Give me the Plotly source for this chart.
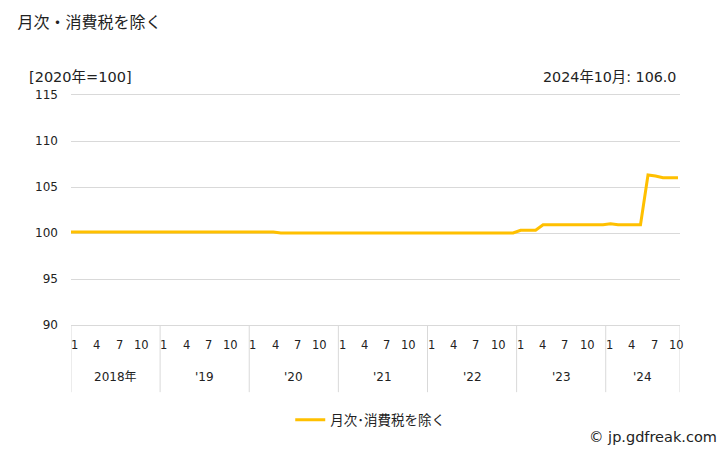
import plotly.graph_objects as go

# ---- data ----
year_labels = ["2018年", "'19", "'20", "'21", "'22", "'23", "'24"]
months_in_year = [12, 12, 12, 12, 12, 12, 10]
month_tick_labels = ["1", "4", "7", "10"]
month_tick_numbers = [1, 4, 7, 10]

v2018 = [100.1, 100.1, 100.1, 100.1, 100.1, 100.1, 100.1, 100.1, 100.1, 100.1, 100.1, 100.1]
v2019 = [100.1, 100.1, 100.1, 100.1, 100.1, 100.1, 100.1, 100.1, 100.1, 100.1, 100.1, 100.1]
v2020 = [100.1, 100.1, 100.1, 100.1, 100.0, 100.0, 100.0, 100.0, 100.0, 100.0, 100.0, 100.0]
v2021 = [100.0, 100.0, 100.0, 100.0, 100.0, 100.0, 100.0, 100.0, 100.0, 100.0, 100.0, 100.0]
v2022 = [100.0, 100.0, 100.0, 100.0, 100.0, 100.0, 100.0, 100.0, 100.0, 100.0, 100.0, 100.0]
v2023 = [100.3, 100.3, 100.3, 100.9, 100.9, 100.9, 100.9, 100.9, 100.9, 100.9, 100.9, 100.9]
v2024 = [101.0, 100.9, 100.9, 100.9, 100.9, 106.3, 106.2, 106.0, 106.0, 106.0]

series_name = "月次･消費税を除く"
title_text = "月次・消費税を除く"
unit_text = "[2020年=100]"
latest_text = "2024年10月: 106.0"
credit_text = "© jp.gdfreak.com"

values = v2018 + v2019 + v2020 + v2021 + v2022 + v2023 + v2024
idx = list(range(len(values)))
n = len(values)

FONT = "DejaVu Sans, Noto Sans CJK JP, sans-serif"
TXT = "#222222"
GRID = "#d9d9d9"
LINE = "#FFC000"

fig = go.Figure()
fig.add_trace(go.Scatter(
    x=idx, y=values, mode="lines", name=series_name,
    line=dict(color=LINE, width=3), xaxis="x", yaxis="y",
))
# helper invisible trace on band axis
fig.add_trace(go.Scatter(x=[0, n], y=[None, None], mode="lines",
                         showlegend=False, xaxis="x2", yaxis="y", hoverinfo="skip"))

shapes = []
annotations = []
# year separators & labels on band axis
start = 0
for lab, m in zip(year_labels, months_in_year):
    shapes.append(dict(type="line", xref="x2", yref="paper", x0=start, x1=start,
                       y0=0, y1=-0.292, line=dict(color=GRID, width=1)))
    for mt, ml in zip(month_tick_numbers, month_tick_labels):
        if mt <= m:
            annotations.append(dict(xref="x2", yref="paper", x=start + mt - 0.5, y=-0.087,
                                    text=ml, showarrow=False, xanchor="center", yanchor="middle",
                                    font=dict(size=11.5, color=TXT, family=FONT)))
    annotations.append(dict(xref="x2", yref="paper", x=start + m / 2, y=-0.226,
                            text=lab, showarrow=False, xanchor="center", yanchor="middle",
                            font=dict(size=12, color=TXT, family=FONT)))
    start += m
shapes.append(dict(type="line", xref="x2", yref="paper", x0=start, x1=start,
                   y0=0, y1=-0.292, line=dict(color=GRID, width=1)))

annotations += [
    dict(xref="paper", yref="paper", x=-0.073, y=1.08, text=unit_text, showarrow=False,
         xanchor="left", yanchor="middle", font=dict(size=14.5, color=TXT, family=FONT)),
    dict(xref="paper", yref="paper", x=0.997, y=1.078, text=latest_text, showarrow=False,
         xanchor="right", yanchor="middle", font=dict(size=14.3, color=TXT, family=FONT)),
    dict(xref="paper", yref="paper", x=1.064, y=-0.487, text=credit_text, showarrow=False,
         xanchor="right", yanchor="middle", font=dict(size=14.5, color=TXT, family=FONT)),
]

fig.update_layout(
    width=728, height=450,
    margin=dict(l=71, r=48, t=95, b=125),
    paper_bgcolor="white", plot_bgcolor="white",
    font=dict(family=FONT, color=TXT, size=12),
    title=dict(text=title_text, xref="container", yref="container", x=0.024, y=0.951,
               xanchor="left", yanchor="middle", font=dict(size=16, color=TXT, family=FONT)),
    xaxis=dict(range=[0, 81.27], showgrid=False, zeroline=False, showticklabels=False,
               showline=True, mirror=True, linecolor=GRID, linewidth=1, fixedrange=True),
    xaxis2=dict(range=[0, n], overlaying="x", showgrid=False, zeroline=False,
                showticklabels=False, showline=False, fixedrange=True),
    yaxis=dict(range=[90, 115], dtick=5, tick0=90, showgrid=True, gridcolor=GRID,
               gridwidth=1, zeroline=False, showline=False, ticks="",
               ticklabelstandoff=12, tickfont=dict(size=12, color=TXT, family=FONT)),
    showlegend=True,
    legend=dict(orientation="h", x=0.36, y=-0.413, xanchor="left", yanchor="middle",
                font=dict(size=13.5, color=TXT, family=FONT), bgcolor="rgba(0,0,0,0)"),
    shapes=shapes, annotations=annotations,
)

fig.write_html("out.html")
